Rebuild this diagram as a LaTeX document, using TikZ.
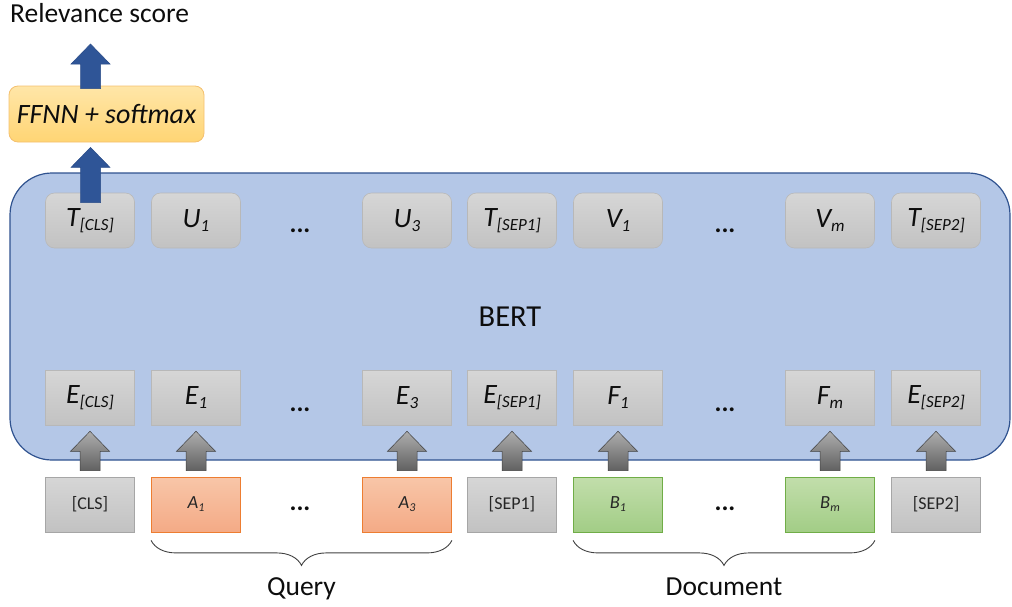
\documentclass[tikz,border=0pt]{standalone}
\usepackage{fontspec}
\setmainfont{Carlito}
\usetikzlibrary{calc,decorations.pathreplacing}

\definecolor{bertfill}{HTML}{B4C7E7}
\definecolor{bertline}{HTML}{2F528F}
\definecolor{blockblue}{HTML}{2F5597}
\definecolor{grayhi}{HTML}{D6D6D6}
\definecolor{graylo}{HTML}{C2C2C2}
\definecolor{grayline}{HTML}{A6A6A6}
\definecolor{orangehi}{HTML}{F8C6A8}
\definecolor{orangelo}{HTML}{F4AA86}
\definecolor{orangeline}{HTML}{ED7D31}
\definecolor{greenhi}{HTML}{C2DEAB}
\definecolor{greenlo}{HTML}{A2CD86}
\definecolor{greenline}{HTML}{70AD47}
\definecolor{ffnnhi}{HTML}{FFE6A8}
\definecolor{ffnnlo}{HTML}{FFD574}
\definecolor{ffnnline}{HTML}{F4C06F}
\definecolor{txt}{HTML}{0D0D0D}

% token label: large italic letter with a smaller lowered italic subscript
\newcommand\tok[2]{\itshape\fontsize{28}{32}\selectfont #1\raisebox{-4.5pt}{\fontsize{17}{19}\selectfont #2}}
\newcommand\itok[2]{\itshape\fontsize{18.5}{21}\selectfont #1\raisebox{-3pt}{\fontsize{12}{14}\selectfont #2}}

% block arrow from a start point up to a tip point
\newcommand\blockarrow[3]{%
  \path[#3] let \p1=(#1), \p2=(#2) in
    (\x1-10,\y1) -- (\x1-10,\y2-20) -- (\x1-19.5,\y2-20) -- (\x1,\y2)
    -- (\x1+19.5,\y2-20) -- (\x1+10,\y2-20) -- (\x1+10,\y1) -- cycle;}

\tikzset{
  bertbox/.style={draw=bertline, line width=1.2pt, fill=bertfill, rounded corners=42pt,
    minimum width=1000pt, minimum height=287pt, inner sep=0pt,
    font=\fontsize{30.5}{35}\selectfont, text=txt},
  outbox/.style={draw=grayline!80, line width=0.6pt, rounded corners=9pt,
    top color=grayhi, bottom color=graylo, minimum width=89pt, minimum height=55pt,
    inner sep=0pt, text=txt},
  embbox/.style={outbox, rounded corners=0pt},
  inbox/.style={draw=grayline, line width=0.8pt, top color=grayhi, bottom color=graylo,
    minimum width=89pt, minimum height=55pt, inner sep=0pt, text=black!85,
    font=\fontsize{18}{21}\selectfont},
  qbox/.style={inbox, draw=orangeline, top color=orangehi, bottom color=orangelo},
  dbox/.style={inbox, draw=greenline, top color=greenhi, bottom color=greenlo},
  ffnnbox/.style={draw=ffnnline, line width=0.8pt, rounded corners=9pt,
    top color=ffnnhi, bottom color=ffnnlo, minimum width=195pt, minimum height=56pt,
    inner sep=0pt, font=\itshape\fontsize{28}{32}\selectfont, text=txt},
  dots/.style={anchor=base, inner sep=0pt, font=\bfseries\fontsize{26}{30}\selectfont, text=txt},
  grayarrow/.style={draw=black!75, line width=0.5pt, top color=black!32, bottom color=black!62},
  bluearrow/.style={draw=blockblue!90!black, line width=0.5pt, fill=blockblue},
  bracestyle/.style={draw=black!75, line width=0.9pt, decorate,
    decoration={brace, mirror, amplitude=25pt}},
  caption/.style={anchor=base, inner sep=0pt, font=\fontsize{27.5}{32}\selectfont, text=txt},
}

\begin{document}
\begin{tikzpicture}[x=1pt, y=-1pt]
  \useasboundingbox (0,0) rectangle (1012,606);

  % encoder block
  \node[bertbox] (bert) at (510,316.5) {BERT};

  % output representations
  \node[outbox] (tcls)  at (90,220.5)  {\tok{T}{[CLS]}};
  \node[outbox] (u1)    at (196,220.5) {\tok{U}{1}};
  \node[dots]   (td1)   at (300,232.5) {...};
  \node[outbox] (u3)    at (407,220.5) {\tok{U}{3}};
  \node[outbox] (tsep1) at (512,220.5) {\tok{T}{[SEP1]}};
  \node[outbox] (v1)    at (618,220.5) {\tok{V}{1}};
  \node[dots]   (td2)   at (725,232.5) {...};
  \node[outbox] (vm)    at (830,220.5) {\tok{V}{m}};
  \node[outbox] (tsep2) at (936,220.5) {\tok{T}{[SEP2]}};

  % input embeddings
  \node[embbox] (ecls)  at (90,397.5)  {\tok{E}{[CLS]}};
  \node[embbox] (e1)    at (196,397.5) {\tok{E}{1}};
  \node[dots]   (ed1)   at (300,411)   {...};
  \node[embbox] (e3)    at (407,397.5) {\tok{E}{3}};
  \node[embbox] (esep1) at (512,397.5) {\tok{E}{[SEP1]}};
  \node[embbox] (f1)    at (618,397.5) {\tok{F}{1}};
  \node[dots]   (ed2)   at (725,411)   {...};
  \node[embbox] (fm)    at (830,397.5) {\tok{F}{m}};
  \node[embbox] (esep2) at (936,397.5) {\tok{E}{[SEP2]}};

  % input tokens
  \node[inbox] (icls)  at (90,504.5)  {[CLS]};
  \node[qbox]  (a1)    at (196,504.5) {\itok{A}{1}};
  \node[dots]  (id1)   at (300,510)   {...};
  \node[qbox]  (a3)    at (407,504.5) {\itok{A}{3}};
  \node[inbox] (isep1) at (512,504.5) {[SEP1]};
  \node[dbox]  (b1)    at (618,504.5) {\itok{B}{1}};
  \node[dots]  (id2)   at (725,510)   {...};
  \node[dbox]  (bm)    at (830,504.5) {\itok{B}{m}};
  \node[inbox] (isep2) at (936,504.5) {[SEP2]};

  % token -> embedding arrows
  \foreach \src/\dst in {icls/ecls, a1/e1, a3/e3, isep1/esep1, b1/f1, bm/fm, isep2/esep2}
    \blockarrow{$(\src.north)+(0,-6)$}{$(\dst.south)+(0,6)$}{grayarrow};

  % classification head
  \node[ffnnbox] (ffnn) at (106.5,114) {FFNN + softmax};
  \node[anchor=base west, inner sep=0pt, font=\fontsize{27.5}{32}\selectfont, text=txt]
    (score) at (10,22.5) {Relevance score};
  \coordinate (scoretip) at (90.5,44);

  \blockarrow{$(tcls.north)+(0.5,10)$}{$(ffnn.south)+(-16,5)$}{bluearrow};
  \blockarrow{$(ffnn.north)+(-16,3)$}{scoretip}{bluearrow};

  % segment braces and captions
  \draw[bracestyle] ($(a1.south west)+(0,8)$) -- ($(a3.south east)+(0,8)$);
  \draw[bracestyle] ($(b1.south west)+(0,8)$) -- ($(bm.south east)+(0,8)$);
  \node[caption] (query) at ($(a1.south)!0.5!(a3.south)+(0,63)$) {Query};
  \node[caption] (doc)   at ($(b1.south)!0.5!(bm.south)+(0,63)$) {Document};
\end{tikzpicture}
\end{document}
